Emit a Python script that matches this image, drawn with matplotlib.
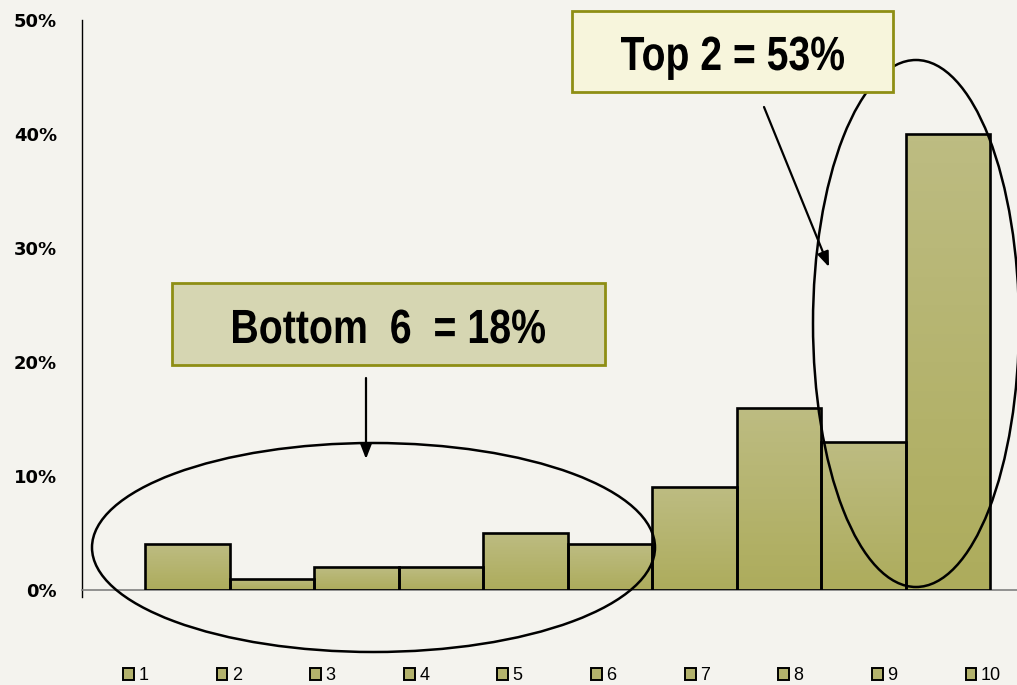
import numpy as np
import matplotlib
matplotlib.use("Agg")
import matplotlib.pyplot as plt
from matplotlib.patches import Rectangle, Ellipse, Patch, PathPatch
from matplotlib.transforms import Affine2D
from matplotlib.colors import LinearSegmentedColormap
from matplotlib.textpath import TextPath
from matplotlib.font_manager import FontProperties

# data
deciles = ["1", "2", "3", "4", "5", "6", "7", "8", "9", "10"]
share = [4, 1, 2, 2, 5, 4, 9, 16, 13, 40]
yticks = [0, 10, 20, 30, 40, 50]
top_label = "Top 2 = 53%"
bottom_label = "Bottom  6  = 18%"

W, H = 1017, 685
BG = "#f4f3ee"
BAR_TOP = "#bdbc82"
BAR_BOT = "#adac5c"

fig = plt.figure(figsize=(W / 100, H / 100), dpi=100, facecolor=BG)
ax = fig.add_axes([82 / W, 1 - 590 / H, (W - 82) / W, 570 / H])
ax.set_facecolor(BG)

x = np.arange(1, len(share) + 1)
bars = ax.bar(x, share, width=1.0, facecolor="none", edgecolor="black",
              linewidth=1.9, zorder=3)

# vertical gradient fill inside every bar
cmap = LinearSegmentedColormap.from_list("olive", [BAR_BOT, BAR_TOP])
grad = np.linspace(0, 1, 64).reshape(-1, 1)
for b in bars:
    x0, w, h = b.get_x(), b.get_width(), b.get_height()
    im = ax.imshow(grad, cmap=cmap, origin="lower", aspect="auto",
                   extent=[x0, x0 + w, 0, h], zorder=2)
    im.set_clip_path(b)

ax.set_xlim(0.5 - 63 / 84.5, 10.5 + 27 / 84.5)
ax.set_ylim(0, 50)
ax.set_yticks(yticks)
ax.set_yticklabels([f"{t}%" for t in yticks], fontweight="bold", fontsize=13,
                   family="DejaVu Sans")
ax.tick_params(axis="y", length=0, pad=18)
ax.set_xticks([])
for s in ["top", "right"]:
    ax.spines[s].set_visible(False)
ax.spines["left"].set_linewidth(1.0)
ax.spines["left"].set_bounds(-0.6, 50)
ax.spines["bottom"].set_color("#808080")
ax.spines["bottom"].set_linewidth(1.2)

# legend row
handles = [Patch(facecolor="#b3b26c", edgecolor="black", linewidth=1.4, label=d)
           for d in deciles]
fig.legend(handles=handles, loc="center left", ncol=10,
           bbox_to_anchor=(123 / W, 1 - 676 / H), frameon=False,
           prop={"family": "Liberation Sans", "size": 13},
           handlelength=0.6, handleheight=0.6, handletextpad=0.25,
           columnspacing=3.78, borderpad=0, borderaxespad=0)

# annotations, placed in reference pixel space (origin top-left)
px = Affine2D().scale(1, -1).translate(0, H).scale(1 / W, 1 / H) + fig.transFigure


def narrow_text(s, left, baseline, width, em=48):
    # bold sans squeezed horizontally to mimic a condensed face
    tp = TextPath((0, 0), s, size=em,
                  prop=FontProperties(family="Liberation Sans", weight="bold"))
    bb = tp.get_extents()
    tr = (Affine2D().translate(-bb.x0, 0).scale(width / bb.width, -1)
          .translate(left, baseline) + px)
    fig.patches.append(PathPatch(tp, transform=tr, facecolor="black",
                                 edgecolor="none", zorder=7))


fig.patches.append(Ellipse((373.5, 547.5), 563, 209, transform=px, fill=False,
                           edgecolor="black", linewidth=1.8, zorder=5))
fig.patches.append(Ellipse((916, 323.5), 206, 527, transform=px, fill=False,
                           edgecolor="black", linewidth=1.8, zorder=5))

fig.patches.append(Rectangle((572, 11), 321, 81, transform=px,
                             facecolor="#f7f5dc", edgecolor="#8e8e14",
                             linewidth=2, zorder=6))
narrow_text(top_label, 621, 70, 223)

fig.patches.append(Rectangle((172, 283), 433, 82, transform=px,
                             facecolor="#d6d6b2", edgecolor="#8e8e14",
                             linewidth=2, zorder=6))
narrow_text(bottom_label, 233, 343, 312)

arrow = dict(arrowstyle="-|>,head_length=0.9,head_width=0.35", color="black",
             linewidth=1.6, shrinkA=0, shrinkB=0)
ax.annotate("", xy=(366, 459), xytext=(366, 378), xycoords=px,
            textcoords=px, arrowprops=arrow, annotation_clip=False)
ax.annotate("", xy=(829, 267), xytext=(764, 107), xycoords=px,
            textcoords=px, arrowprops=arrow, annotation_clip=False)

fig.savefig("out.png", dpi=100, facecolor=BG)
